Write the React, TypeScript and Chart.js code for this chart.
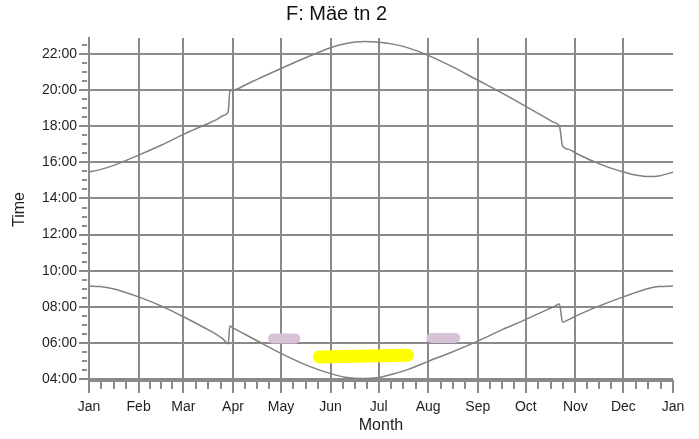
import { useEffect, useRef } from 'react';
import { Chart, registerables } from 'chart.js';

Chart.register(...registerables);

const chartTitle = 'F: Mäe tn 2';
const xAxisTitle = 'Month';
const yAxisTitle = 'Time';

const monthStartDays = [0, 31, 59, 90, 120, 151, 181, 212, 243, 273, 304, 334, 365];
const monthLabels = ['Jan', 'Feb', 'Mar', 'Apr', 'May', 'Jun', 'Jul', 'Aug', 'Sep', 'Oct', 'Nov', 'Dec', 'Jan'];
const hourTickValues = [4, 6, 8, 10, 12, 14, 16, 18, 20, 22];
const hourTickLabels = ['04:00', '06:00', '08:00', '10:00', '12:00', '14:00', '16:00', '18:00', '20:00', '22:00'];

const sampleDays = [0, 7, 15, 31, 45, 59, 73, 80, 84, 87, 88, 90, 98, 105, 120, 135, 151, 160, 172, 181, 190, 200, 212, 227, 243, 258, 273, 284, 291, 294, 296, 300, 304, 319, 334, 349, 356, 365];
const sunsetHours = [15.47, 15.6, 15.82, 16.4, 16.95, 17.55, 18.1, 18.38, 18.6, 18.8, 19.93, 20.0, 20.3, 20.6, 21.2, 21.78, 22.35, 22.57, 22.69, 22.66, 22.55, 22.33, 21.93, 21.3, 20.55, 19.85, 19.1, 18.55, 18.2, 18.02, 16.9, 16.72, 16.52, 15.92, 15.47, 15.22, 15.25, 15.45];
const sunriseHours = [9.15, 9.12, 9.0, 8.55, 8.05, 7.45, 6.8, 6.45, 6.2, 5.95, 6.93, 6.83, 6.45, 6.12, 5.42, 4.8, 4.3, 4.1, 4.03, 4.08, 4.28, 4.55, 4.98, 5.5, 6.1, 6.72, 7.3, 7.75, 8.02, 8.15, 7.15, 7.3, 7.48, 8.05, 8.55, 9.0, 9.12, 9.15];

const yellowMarkDays = [144, 199];
const yellowMarkHours = [5.22, 5.32];
const pinkMarkADays = [115, 129];
const pinkMarkAHours = [6.24, 6.24];
const pinkMarkBDays = [214, 229];
const pinkMarkBHours = [6.27, 6.27];

const yMin = 3.89;
const yMax = 22.89;

const GRID = '#8a8a8a';
const LINE = '#808080';
const TEXT = '#1e1e1e';

const toPoints = (xs: number[], ys: number[]) => xs.map((x, i) => ({ x, y: ys[i] }));

const minorTicks = {
  id: 'minorTicks',
  afterDraw(chart: any) {
    const { ctx } = chart;
    const x = chart.scales.x;
    const y = chart.scales.y;
    ctx.save();
    ctx.strokeStyle = GRID;
    ctx.lineWidth = 2;
    ctx.beginPath();
    for (let i = 0; i < monthStartDays.length - 1; i++) {
      const s = monthStartDays[i];
      const e = monthStartDays[i + 1];
      for (let k = 1; k < 4; k++) {
        const px = Math.round(x.getPixelForValue(s + ((e - s) * k) / 4));
        ctx.moveTo(px, y.bottom + 1);
        ctx.lineTo(px, y.bottom + 8);
      }
    }
    for (let h = Math.ceil(yMin * 2) / 2; h <= yMax; h += 0.5) {
      if (h % 2 === 0) continue;
      const py = Math.round(y.getPixelForValue(h));
      ctx.moveTo(x.left - 7, py);
      ctx.lineTo(x.left - 2, py);
    }
    ctx.stroke();
    ctx.restore();
  },
};

export default function App() {
  const ref = useRef<HTMLCanvasElement | null>(null);

  useEffect(() => {
    if (!ref.current) return;
    Chart.defaults.font.family = "'Liberation Sans', Arial, sans-serif";
    const chart = new Chart(ref.current, {
      type: 'line',
      data: {
        datasets: [
          {
            data: toPoints(yellowMarkDays, yellowMarkHours),
            borderColor: '#ffff00',
            borderWidth: 13,
            borderCapStyle: 'round',
            pointRadius: 0,
          },
          {
            data: toPoints(pinkMarkADays, pinkMarkAHours),
            borderColor: '#d8c2d6',
            borderWidth: 10,
            borderCapStyle: 'round',
            pointRadius: 0,
          },
          {
            data: toPoints(pinkMarkBDays, pinkMarkBHours),
            borderColor: '#d8c2d6',
            borderWidth: 10,
            borderCapStyle: 'round',
            pointRadius: 0,
          },
          {
            data: toPoints(sampleDays, sunsetHours),
            borderColor: LINE,
            borderWidth: 1.5,
            pointRadius: 0,
            cubicInterpolationMode: 'monotone',
          },
          {
            data: toPoints(sampleDays, sunriseHours),
            borderColor: LINE,
            borderWidth: 1.5,
            pointRadius: 0,
            cubicInterpolationMode: 'monotone',
          },
        ] as any,
      },
      options: {
        animation: false,
        responsive: false,
        devicePixelRatio: 1,
        layout: { padding: { left: 0, right: 26, top: 0, bottom: 0 } },
        plugins: {
          legend: { display: false },
          tooltip: { enabled: false },
          title: {
            display: true,
            text: chartTitle,
            color: '#111',
            font: { size: 20, weight: 'normal' },
            padding: { top: 2, bottom: 12 },
          },
        },
        scales: {
          x: {
            type: 'linear',
            min: 0,
            max: 365,
            z: 1,
            afterBuildTicks: (scale: any) => {
              scale.ticks = monthStartDays.map((v) => ({ value: v }));
            },
            afterFit: (scale: any) => {
              scale.height = 58;
            },
            ticks: {
              autoSkip: false,
              maxRotation: 0,
              color: TEXT,
              font: { size: 14 },
              padding: 6,
              callback: (_v: any, i: number) => monthLabels[i],
            },
            grid: {
              color: (ctx: any) => (ctx.tick && ctx.tick.value === 365 ? 'rgba(0,0,0,0)' : GRID),
              tickColor: GRID,
              lineWidth: 2,
              tickLength: 12,
            },
            border: { display: true, color: GRID, width: 2 },
            title: {
              display: true,
              text: xAxisTitle,
              color: TEXT,
              font: { size: 16 },
              padding: { top: 0, bottom: 4 },
            },
          },
          y: {
            type: 'linear',
            min: yMin,
            max: yMax,
            z: 1,
            afterBuildTicks: (scale: any) => {
              scale.ticks = hourTickValues.map((v) => ({ value: v }));
            },
            afterFit: (scale: any) => {
              scale.width = 89;
            },
            ticks: {
              autoSkip: false,
              color: TEXT,
              font: { size: 14 },
              padding: 2,
              callback: (_v: any, i: number) => hourTickLabels[i],
            },
            grid: {
              color: GRID,
              tickColor: GRID,
              lineWidth: 2,
              tickLength: 10,
            },
            border: { display: true, color: GRID, width: 2 },
            title: {
              display: true,
              text: yAxisTitle,
              color: TEXT,
              font: { size: 16 },
              padding: { top: 10, bottom: 0 },
            },
          },
        },
      } as any,
      plugins: [minorTicks],
    });
    return () => chart.destroy();
  }, []);

  return (
    <div style={{ position: 'fixed', left: 0, top: 0, width: 699, height: 439, background: '#fff' }}>
      <canvas ref={ref} width={699} height={439} style={{ display: 'block' }} />
    </div>
  );
}
